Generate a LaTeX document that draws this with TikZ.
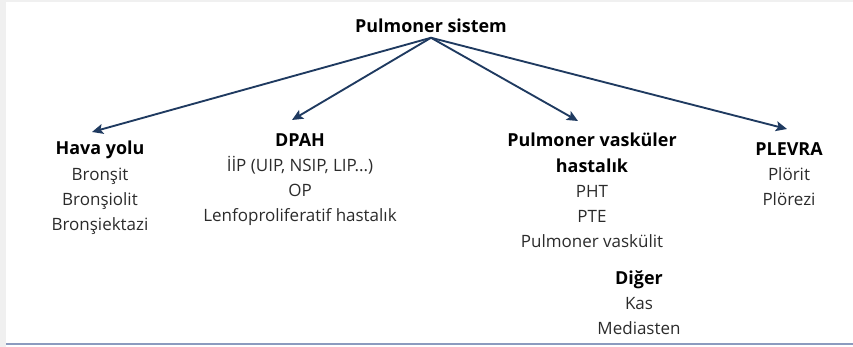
\documentclass[tikz,border=0pt]{standalone}
\usepackage{fontspec}
\setmainfont{Open Sans}
\usepackage{tikz}
\usetikzlibrary{arrows.meta,positioning,calc}
\definecolor{arrowblue}{HTML}{1F3A60}
\definecolor{textgray}{HTML}{2B2B2B}
\definecolor{rulegray}{HTML}{8C9BBF}
\definecolor{framegray}{HTML}{F0F0F0}
\newcommand{\grouptitle}[1]{{\fontsize{15.3}{21.5}\selectfont\bfseries\color{black}#1}}
\tikzstyle{group} = [align=center,anchor=north,inner sep=0pt,text=textgray,font=\fontsize{14.5}{21.5}\selectfont]
\tikzstyle{link} = [arrowblue,line width=1.6pt,-{Stealth[length=9.5pt,width=8.5pt,inset=2pt]}]
\tikzset{>=latex}

\begin{document}
\begin{tikzpicture}[x=0.03cm,y=-0.03cm]
    \useasboundingbox (0,0) rectangle (853,347);
    \fill [framegray] (0,0) rectangle (6,347);
    \fill [framegray] (0,0) rectangle (853,2);
    \draw [rulegray,line width=1.2pt] (6,344) -- (853,344);

    \node [group] (root) at (431,18.5) {\grouptitle{Pulmoner sistem}};
    \node [group] (hava) at (100,141) {\grouptitle{Hava yolu}\\Bronşit\\Bronşiolit\\Bronşiektazi};
    \node [group] (dpah) at (300,133) {\grouptitle{DPAH}\\İİP (UIP, NSIP, LIP...)\\OP\\Lenfoproliferatif hastalık};
    \node [group] (vaskuler) at (592,133) {\grouptitle{Pulmoner vasküler}\\\grouptitle{hastalık}\\PHT\\PTE\\Pulmoner vaskülit};
    \node [group] (plevra) at (789,142) {\grouptitle{PLEVRA}\\Plörit\\Plörezi};
    \node [group] (diger) at (639,270) {\grouptitle{Diğer}\\Kas\\Mediasten};

    \coordinate (apex) at ($(root.south)+(0,5)$);
    \coordinate (havatip) at ($(hava.north)+(-8,-9)$);
    \coordinate (dpahtip) at ($(dpah.north)+(-8,-13)$);
    \coordinate (vaskulertip) at ($(vaskuler.north)+(-14,-12)$);
    \coordinate (plevratip) at ($(plevra.north)+(-2,-13)$);

    \draw [link] (apex) -- (havatip);
    \draw [link] (apex) -- (dpahtip);
    \draw [link] (apex) -- (vaskulertip);
    \draw [link] (apex) -- (plevratip);
\end{tikzpicture}
\end{document}
